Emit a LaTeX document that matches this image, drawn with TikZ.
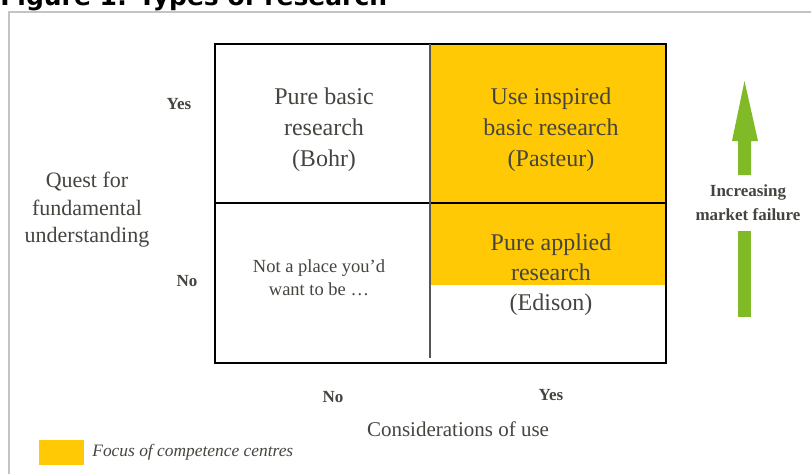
\documentclass[tikz,border=0pt]{standalone}
\usepackage{fontspec}
\setmainfont{Liberation Serif}
\newfontfamily\figfont{DejaVu Sans}
\usetikzlibrary{positioning}
\definecolor{cFocus}{HTML}{FFCA05}
\definecolor{cGreen}{HTML}{80BA27}
\definecolor{cTxt}{HTML}{45443F}
\definecolor{cFrame}{HTML}{C4C4C4}
\definecolor{cMid}{HTML}{555555}

\begin{document}
\begin{tikzpicture}[
  x=0.5pt, y=-0.5pt,
  lbl/.style  ={text=cTxt, align=center, inner sep=0pt},
  cellt/.style={lbl, font=\fontsize{12}{15.5}\selectfont},
  small/.style={lbl, font=\fontsize{9.25}{11.5}\selectfont},
  axt/.style  ={lbl, font=\fontsize{11}{13.75}\selectfont},
  yn/.style   ={lbl, font=\fontsize{8.5}{10}\selectfont\bfseries},
  box/.style  ={draw=black, line width=1pt},
  midl/.style ={draw=cMid, line width=1pt},
]
\useasboundingbox (0,0) rectangle (811,473);
\clip (0,0) rectangle (811,473);

% frame and caption
\node[anchor=base west, inner sep=0pt, font=\figfont\bfseries\fontsize{12.5}{14}\selectfont]
  (title) at (0,5) {Figure 1: Types of research};
\draw[cFrame, line width=1pt] (9,475) -- (9,12) -- (815,12);

% focus areas
\fill[cFocus] (430,44) rectangle (666,203);
\fill[cFocus] (430,203) rectangle (666,285);

% grid
\draw[box] (215,44) rectangle (666,363);
\draw[box] (215,203) -- (666,203);
\draw[midl] (430,44) -- (430,358);

% cells
\node[cellt] (bohr)    at (324,130) {Pure basic\\research\\(Bohr)};
\node[cellt] (pasteur) at (551,130) {Use inspired\\basic research\\(Pasteur)};
\node[cellt, font=\fontsize{12}{15}\selectfont] (edison) at (551,275) {Pure applied\\research\\(Edison)};
\node[small] (none)    at (319,278) {Not a place you’d\\want to be \dots};

% axes
\node[yn]  (qyes) at (179,104) {Yes};
\node[yn]  (qno)  at (187,281) {No};
\node[axt] (quest) at (87,210) {Quest for\\fundamental\\understanding};
\node[yn]  (uno)  at (333,397) {No};
\node[yn]  (uyes) at (551,395) {Yes};
\node[lbl, font=\fontsize{10.5}{12}\selectfont] (use) at (458,429) {Considerations of use};

% market failure arrow
\node[yn, font=\fontsize{8.5}{12}\selectfont\bfseries] (fail) at (748,203)
  {Increasing\\market failure};
\fill[cGreen] (738,317) rectangle (751,231);
\fill[cGreen] (738,175) -- (738,141) -- (732,141) -- (744.5,81) -- (758,141) -- (751,141) -- (751,175) -- cycle;

% legend
\fill[cFocus] (39,440) rectangle (84,465);
\node[lbl, anchor=west, font=\fontsize{8.7}{10}\selectfont\itshape] (leg) at (92,452)
  {Focus of competence centres};
\end{tikzpicture}
\end{document}
